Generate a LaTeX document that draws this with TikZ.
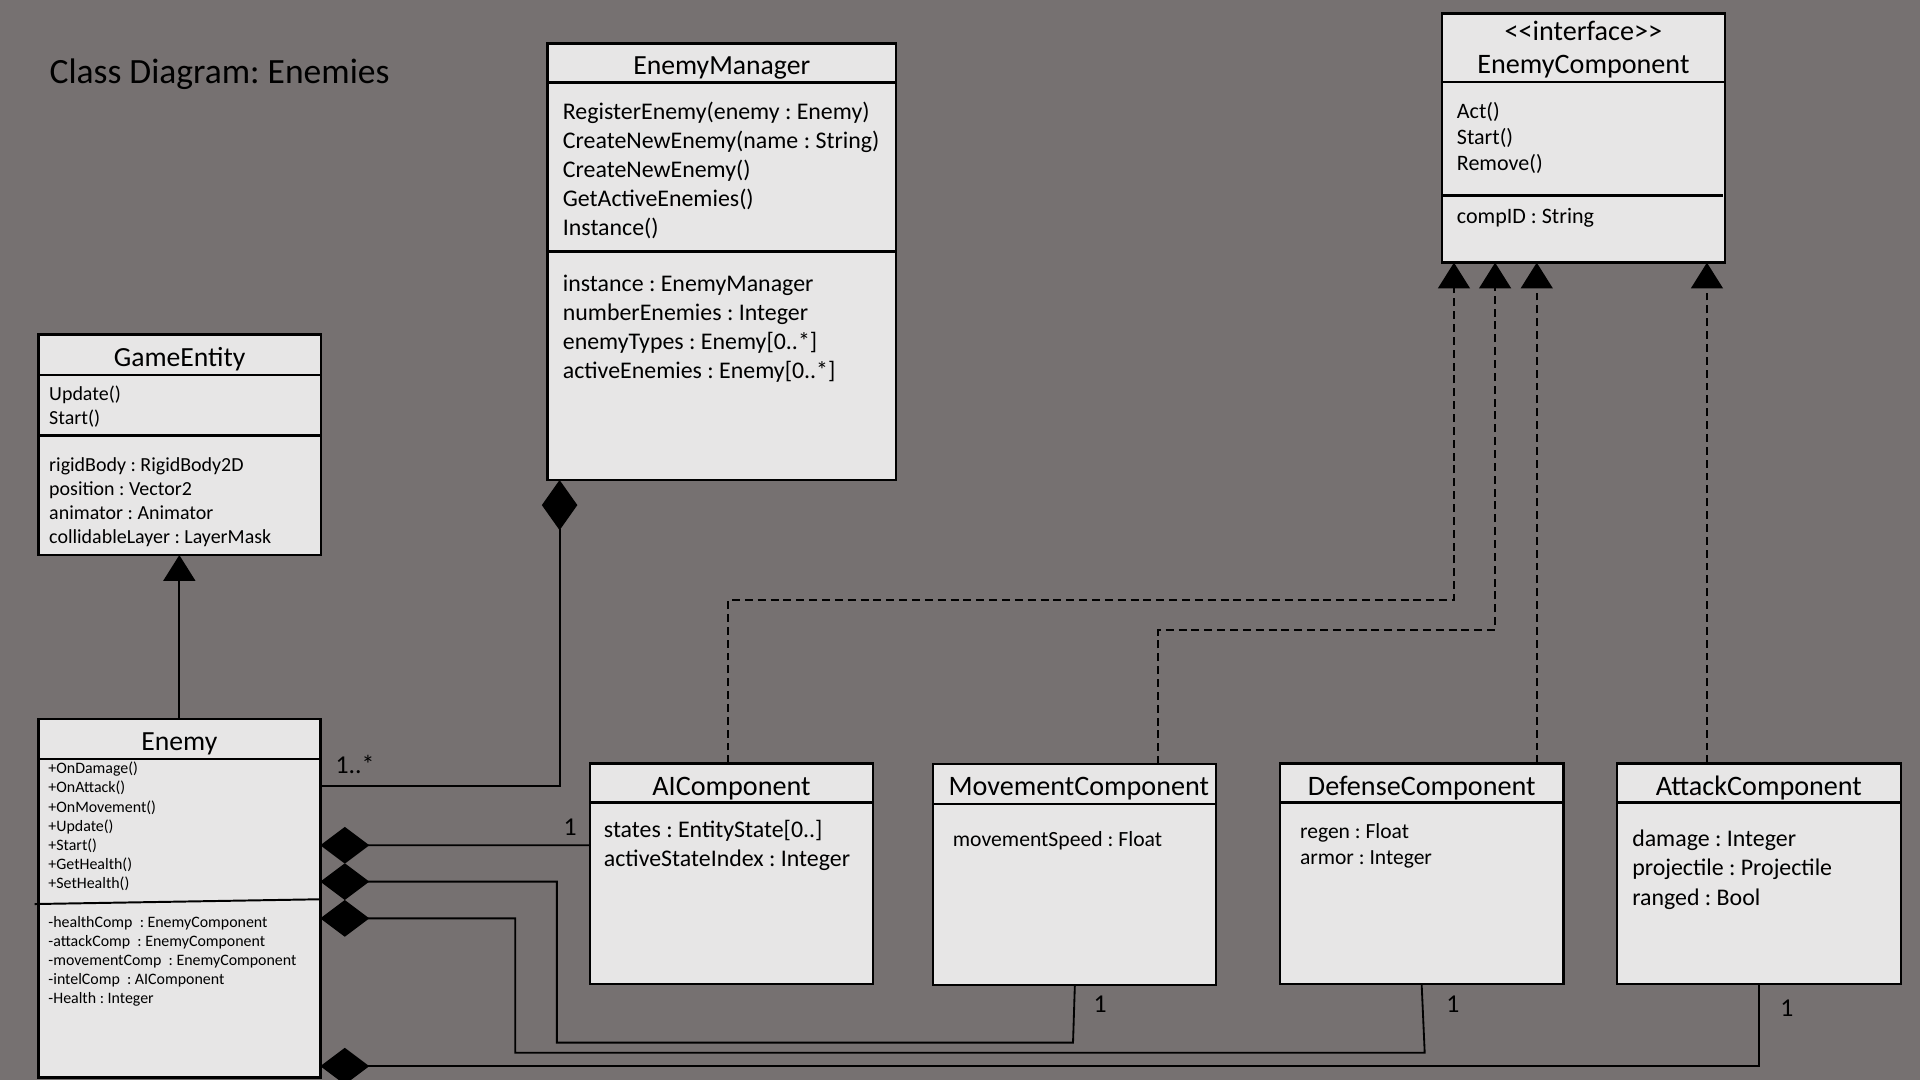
\documentclass[tikz,border=0pt]{standalone}
\usepackage{fontspec}
\setmainfont{Carlito}
\usetikzlibrary{arrows.meta,calc}
\definecolor{bg}{HTML}{767171}
\definecolor{boxfill}{HTML}{E7E6E6}
\frenchspacing
\tikzset{
  umlbox/.style={draw=black, line width=2pt, fill=boxfill, anchor=north west, inner sep=0pt, outer sep=0pt},
  sepline/.style={line width=2pt},
  txt/.style={anchor=base west, inner sep=0pt, text=black},
  ttl/.style={anchor=base, inner sep=0pt, text=black, font=\fontsize{22.6}{27}\selectfont},
  cttl/.style={anchor=base, inner sep=0pt, text=black, font=\fontsize{23}{27}\selectfont},
  comp/.style={line width=1.5pt, {Diamond[length=40pt,width=30pt]}-},
  compv/.style={line width=1.5pt, {Diamond[length=41pt,width=29pt]}-},
  real/.style={line width=1.5pt, dash pattern=on 6.5pt off 4pt, -{Triangle[length=21pt,width=26pt]}},
  inh/.style={line width=1.5pt, -{Triangle[length=21pt,width=26pt]}},
  mult/.style={anchor=base west, inner sep=0pt, text=black, font=\fontsize{21}{25}\selectfont},
}
\begin{document}
\begin{tikzpicture}[x=1pt,y=-1pt]
\fill[bg] (0,0) rectangle (1568,882);
\useasboundingbox (0,0) rectangle (1568,882);

% title
\node[txt, font=\fontsize{29}{35}\selectfont] (title) at (40.3,68) {Class Diagram: Enemies};

% ---------- boxes ----------
\node[umlbox, minimum width=284.7pt, minimum height=356.6pt] (em) at (447,35.4) {};
\node[umlbox, minimum width=230.9pt, minimum height=180.3pt] (ge) at (31.3,273) {};
\node[umlbox, minimum width=230.3pt, minimum height=292.8pt] (en) at (31.3,587.2) {};
\node[umlbox, minimum width=231.2pt, minimum height=180pt] (ai) at (481.8,623.4) {};
\node[umlbox, minimum width=231.1pt, minimum height=180.4pt] (mv) at (761.9,624) {};
\node[umlbox, minimum width=231.6pt, minimum height=180pt] (df) at (1045.3,623.4) {};
\node[umlbox, minimum width=232pt, minimum height=180pt] (at) at (1320.4,623.4) {};
\node[umlbox, minimum width=231.4pt, minimum height=203.6pt] (ec) at (1177.4,10.9) {};

% ---------- separators ----------
\draw[sepline] ([yshift=-31.8pt]em.north west) -- ([yshift=-31.8pt]em.north east);
\draw[sepline] ([yshift=-170.1pt]em.north west) -- ([yshift=-170.1pt]em.north east);
\draw[sepline] ([yshift=-33.3pt]ge.north west) -- ([yshift=-33.3pt]ge.north east);
\draw[sepline] ([yshift=-82.8pt]ge.north west) -- ([yshift=-82.8pt]ge.north east);
\draw[sepline] ([yshift=-32.8pt]en.north west) -- ([yshift=-32.8pt]en.north east);
\draw[line width=1.6pt] ([xshift=-3pt,yshift=-151.1pt]en.north west) -- ([yshift=-147.2pt]en.north east);
\draw[sepline] ([yshift=-32.1pt]ai.north west) -- ([yshift=-32.1pt]ai.north east);
\draw[sepline] ([yshift=-32.6pt]mv.north west) -- ([yshift=-32.6pt]mv.north east);
\draw[sepline] ([yshift=-32.1pt]df.north west) -- ([yshift=-32.1pt]df.north east);
\draw[sepline] ([yshift=-32.1pt]at.north west) -- ([yshift=-32.1pt]at.north east);
\draw[sepline] ([yshift=-55.9pt]ec.north west) -- ([yshift=-55.9pt]ec.north east);
\draw[sepline] ([yshift=-148.9pt]ec.north west) -- ([xshift=-2pt,yshift=-148.9pt]ec.north east);

% ---------- titles ----------
\node[ttl] (emT) at (589.4,60.7) {EnemyManager};
\node[ttl] (geT) at (146.7,299.4) {GameEntity};
\node[ttl] (enT) at (146.5,613) {Enemy};
\node[cttl] (aiT) at (597.4,649.3) {AIComponent};
\node[cttl] (mvT) at (881,650) {MovementComponent};
\node[cttl] (dfT) at (1161.1,649.3) {DefenseComponent};
\node[cttl] (atT) at (1436.4,649.3) {AttackComponent};
\node[cttl] (ecS) at (1293.1,32.7) {<\kern0pt<interface>\kern0pt>};
\node[cttl] (ecT) at (1293.1,60.4) {EnemyComponent};

% ---------- EnemyManager ----------
\foreach \t [count=\i from 0] in {{RegisterEnemy(enemy : Enemy)},{CreateNewEnemy(name : String)},{CreateNewEnemy()},{GetActiveEnemies()},{Instance()}}
  \node[txt, font=\fontsize{19.5}{23}\selectfont] (emm\i) at (459.5,97.2+23.7*\i) {\t};
\foreach \t [count=\i from 0] in {{instance : EnemyManager},{numberEnemies : Integer},{enemyTypes : Enemy[0..*]},{activeEnemies : Enemy[0..*]}}
  \node[txt, font=\fontsize{19.5}{23}\selectfont] (ema\i) at (459.5,238.2+23.7*\i) {\t};

% ---------- GameEntity ----------
\foreach \t [count=\i from 0] in {{Update()},{Start()}}
  \node[txt, font=\fontsize{16.3}{19}\selectfont] (gem\i) at (40,326.7+19.6*\i) {\t};
\foreach \t [count=\i from 0] in {{rigidBody : RigidBody2D},{position : Vector2},{animator : Animator},{collidableLayer : LayerMask}}
  \node[txt, font=\fontsize{16.3}{19}\selectfont] (gea\i) at (40,385.2+19.5*\i) {\t};

% ---------- Enemy ----------
\foreach \t [count=\i from 0] in {{+OnDamage()},{+OnAttack()},{+OnMovement()},{+Update()},{+Start()},{+GetHealth()},{+SetHealth()}}
  \node[txt, font=\fontsize{13}{15}\selectfont] (enm\i) at (39.4,632+15.6*\i) {\t};
\foreach \t [count=\i from 0] in {{-healthComp\ \ : EnemyComponent},{-attackComp\ \ : EnemyComponent},{-movementComp\ \ : EnemyComponent},{-intelComp\ \ : AIComponent},{-Health : Integer}}
  \node[txt, font=\fontsize{13}{15}\selectfont] (ena\i) at (39.4,757.6+15.5*\i) {\t};

% ---------- components ----------
\foreach \t [count=\i from 0] in {{states : EntityState[0..]},{activeStateIndex : Integer}}
  \node[txt, font=\fontsize{19.5}{23}\selectfont] (aia\i) at (493,684+23.8*\i) {\t};
\node[txt, font=\fontsize{17.7}{21}\selectfont] (mva0) at (778,691) {movementSpeed : Float};
\foreach \t [count=\i from 0] in {{regen : Float},{armor : Integer}}
  \node[txt, font=\fontsize{17.6}{21}\selectfont] (dfa\i) at (1061.5,684.9+21*\i) {\t};
\foreach \t [count=\i from 0] in {{damage : Integer},{projectile : Projectile},{ranged : Bool}}
  \node[txt, font=\fontsize{19.5}{23}\selectfont] (ata\i) at (1332.8,691.5+23.8*\i) {\t};

% ---------- EnemyComponent ----------
\foreach \t [count=\i from 0] in {{Act()},{Start()},{Remove()}}
  \node[txt, font=\fontsize{18}{21}\selectfont] (ecm\i) at (1189.6,96.6+21.4*\i) {\t};
\node[txt, font=\fontsize{18}{21}\selectfont] (eca0) at (1189.6,182.4) {compID : String};

% ---------- inheritance ----------
\draw[inh] (en.north) -- (en.north |- ge.south);

% ---------- composition ----------
\draw[compv] ([xshift=10pt]em.south west) |- ([yshift=-54.4pt]en.north east);
\draw[comp] ([yshift=-103.1pt]en.north east) -- ([yshift=-66.9pt]ai.north west);
\draw[comp] ([yshift=-132.8pt]en.north east) -- (454.8,720) -- (454.8,851.5) -- (876.3,851.5) -- ([xshift=115.9pt]mv.south west);
\draw[comp] ([yshift=-162.8pt]en.north east) -- (420.8,750) -- (420.8,859.7) -- (1163.5,859.7) -- ([xshift=115.7pt]df.south west);
\draw[comp] ([yshift=-283.5pt]en.north east) -| ([xshift=116.2pt]at.south west);

% multiplicities
\node[mult] (m0) at (273.8,631.5) {1..*};
\node[mult] (m1) at (460,682) {1};
\node[mult] (m2) at (893,827) {1};
\node[mult] (m3) at (1181,827) {1};
\node[mult] (m4) at (1453.7,830.3) {1};

% ---------- realization ----------
\draw[real] ([xshift=112.9pt]ai.north west) |- (1187.4,490) -- ([xshift=10pt]ec.south west);
\draw[real] ([xshift=184.1pt]mv.north west) |- (1221,514.5) -- ([xshift=43.6pt]ec.south west);
\draw[real] ([xshift=209.7pt]df.north west) -- ([xshift=209.7pt]df.north west |- ec.south);
\draw[real] ([xshift=73.6pt]at.north west) -- ([xshift=73.6pt]at.north west |- ec.south);
\end{tikzpicture}
\end{document}
